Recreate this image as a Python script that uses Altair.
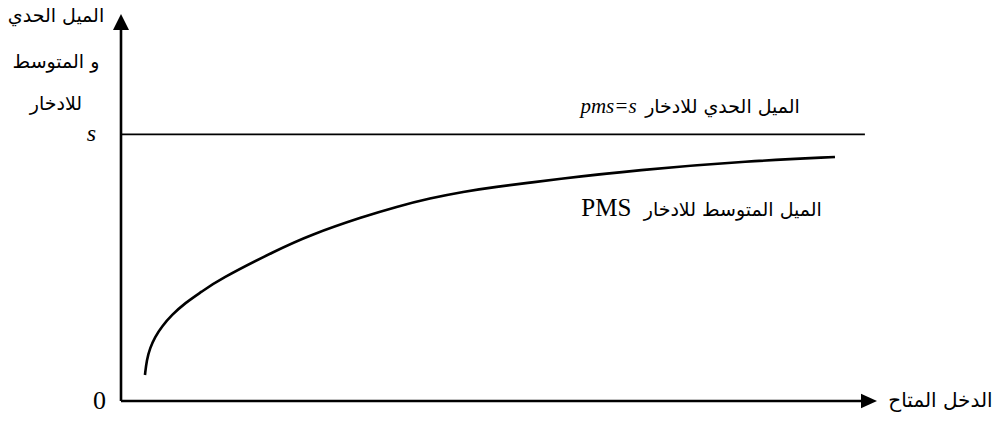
import altair as alt
import pandas as pd

# Average propensity to save (PMS) against disposable income
income = [3.17, 3.40, 3.84, 4.50, 5.38, 6.71, 8.47, 10.67, 12.87, 20.63,
          25.0, 32.01, 36.47, 40.87, 45.24, 49.70, 54.10, 56.75,
          68.25, 83.2, 94.44]
pms = [6.72, 10.59, 13.70, 16.54, 19.20, 22.22, 25.32, 28.24, 31.27, 39.02,
       42.89, 47.62, 50.21, 52.38, 54.08, 55.37, 56.41, 57.11,
       59.69, 62.02, 63.05]

# Marginal propensity to save: constant s
s_value = 68.9
s_end = 98.4
axis_max = 100
axis_line_end = 98

ylabel_lines = ["الميل الحدي", "و المتوسط", "للادخار"]
ylabel_pos = [99.5, 87.6, 76.7]
xlabel = "الدخل المتاح"
mps_label_ar = "الميل الحدي للادخار"
mps_label_lat = "pms=s"
aps_label_ar = "الميل المتوسط للادخار"
aps_label_lat = "PMS"

AR_FONT = "DejaVu Sans"
LAT_FONT = "Liberation Serif"

xs = alt.Scale(domain=[0, axis_max], nice=False, zero=False)
ys = alt.Scale(domain=[0, axis_max], nice=False, zero=False)


def X(field):
    return alt.X(field, type="quantitative", scale=xs, axis=None)


def Y(field):
    return alt.Y(field, type="quantitative", scale=ys, axis=None)


def label(df, **mark_kw):
    return alt.Chart(df).mark_text(color="black", **mark_kw).encode(
        x=X("x"), y=Y("y"), text="t:N"
    )


# Axes with arrowheads
axes_df = pd.DataFrame({
    "x": [0, 0], "y": [0, 0],
    "x2": [axis_line_end, 0], "y2": [0, axis_line_end],
})
axes = alt.Chart(axes_df).mark_rule(color="black", strokeWidth=2.6).encode(
    x=X("x"), y=Y("y"), x2="x2", y2="y2"
)

arrow_right = alt.Chart(pd.DataFrame({"x": [axis_max], "y": [0]})).mark_point(
    shape="M 0 0 L -2 -0.9 L -2 0.9 Z", size=256, filled=True, color="black", opacity=1
).encode(x=X("x"), y=Y("y"))

arrow_up = alt.Chart(pd.DataFrame({"x": [0], "y": [axis_max]})).mark_point(
    shape="M 0 0 L -1 2 L 1 2 Z", size=256, filled=True, color="black", opacity=1
).encode(x=X("x"), y=Y("y"))

# Marginal propensity line
s_line = alt.Chart(pd.DataFrame({"x": [0], "x2": [s_end], "y": [s_value]})).mark_rule(
    color="black", strokeWidth=1.6
).encode(x=X("x"), x2="x2", y=Y("y"))

# Average propensity curve (smoothed through the read points)
curve = alt.Chart(pd.DataFrame({"x": income, "y": pms})).mark_line(
    color="black", strokeWidth=2.6, interpolate="basis"
).encode(x=X("x"), y=Y("y"))

# y-axis title, three lines
ylab = label(
    pd.DataFrame({"t": ylabel_lines, "x": [-8.6] * 3, "y": ylabel_pos}),
    font=AR_FONT, fontSize=19, align="center", baseline="middle",
)

# Tick-like labels: s and 0
s_tick = label(
    pd.DataFrame({"t": ["s"], "x": [-3.3], "y": [s_value]}),
    font=LAT_FONT, fontSize=24, fontStyle="italic", align="right", baseline="middle",
)
zero_tick = label(
    pd.DataFrame({"t": ["0"], "x": [-2.0], "y": [0]}),
    font=LAT_FONT, fontSize=26, align="right", baseline="middle",
)

# x-axis title
xlab = label(
    pd.DataFrame({"t": [xlabel], "x": [101.5], "y": [0]}),
    font=AR_FONT, fontSize=20, align="left", baseline="middle",
)

# Curve labels
mps_ar = label(
    pd.DataFrame({"t": [mps_label_ar], "x": [89.8], "y": [74.4]}),
    font=AR_FONT, fontSize=19, align="right", baseline="alphabetic",
)
mps_lat = label(
    pd.DataFrame({"t": [mps_label_lat], "x": [68.2], "y": [74.4]}),
    font=LAT_FONT, fontSize=21, fontStyle="italic", align="right", baseline="alphabetic",
)
aps_ar = label(
    pd.DataFrame({"t": [aps_label_ar], "x": [92.7], "y": [47.8]}),
    font=AR_FONT, fontSize=19, align="right", baseline="alphabetic",
)
aps_lat = label(
    pd.DataFrame({"t": [aps_label_lat], "x": [67.5], "y": [47.8]}),
    font=LAT_FONT, fontSize=25, align="right", baseline="alphabetic",
)

chart = alt.layer(
    axes, arrow_right, arrow_up, s_line, curve, ylab, s_tick, zero_tick, xlab,
    mps_ar, mps_lat, aps_ar, aps_lat
).properties(
    width=756, height=387,
    autosize=alt.AutoSizeParams(type="none"),
    padding={"left": 121, "top": 14, "right": 115, "bottom": 20},
    background="white",
).configure_view(stroke=None)

chart.save("out.html", embed_options={"renderer": "svg", "actions": False})
